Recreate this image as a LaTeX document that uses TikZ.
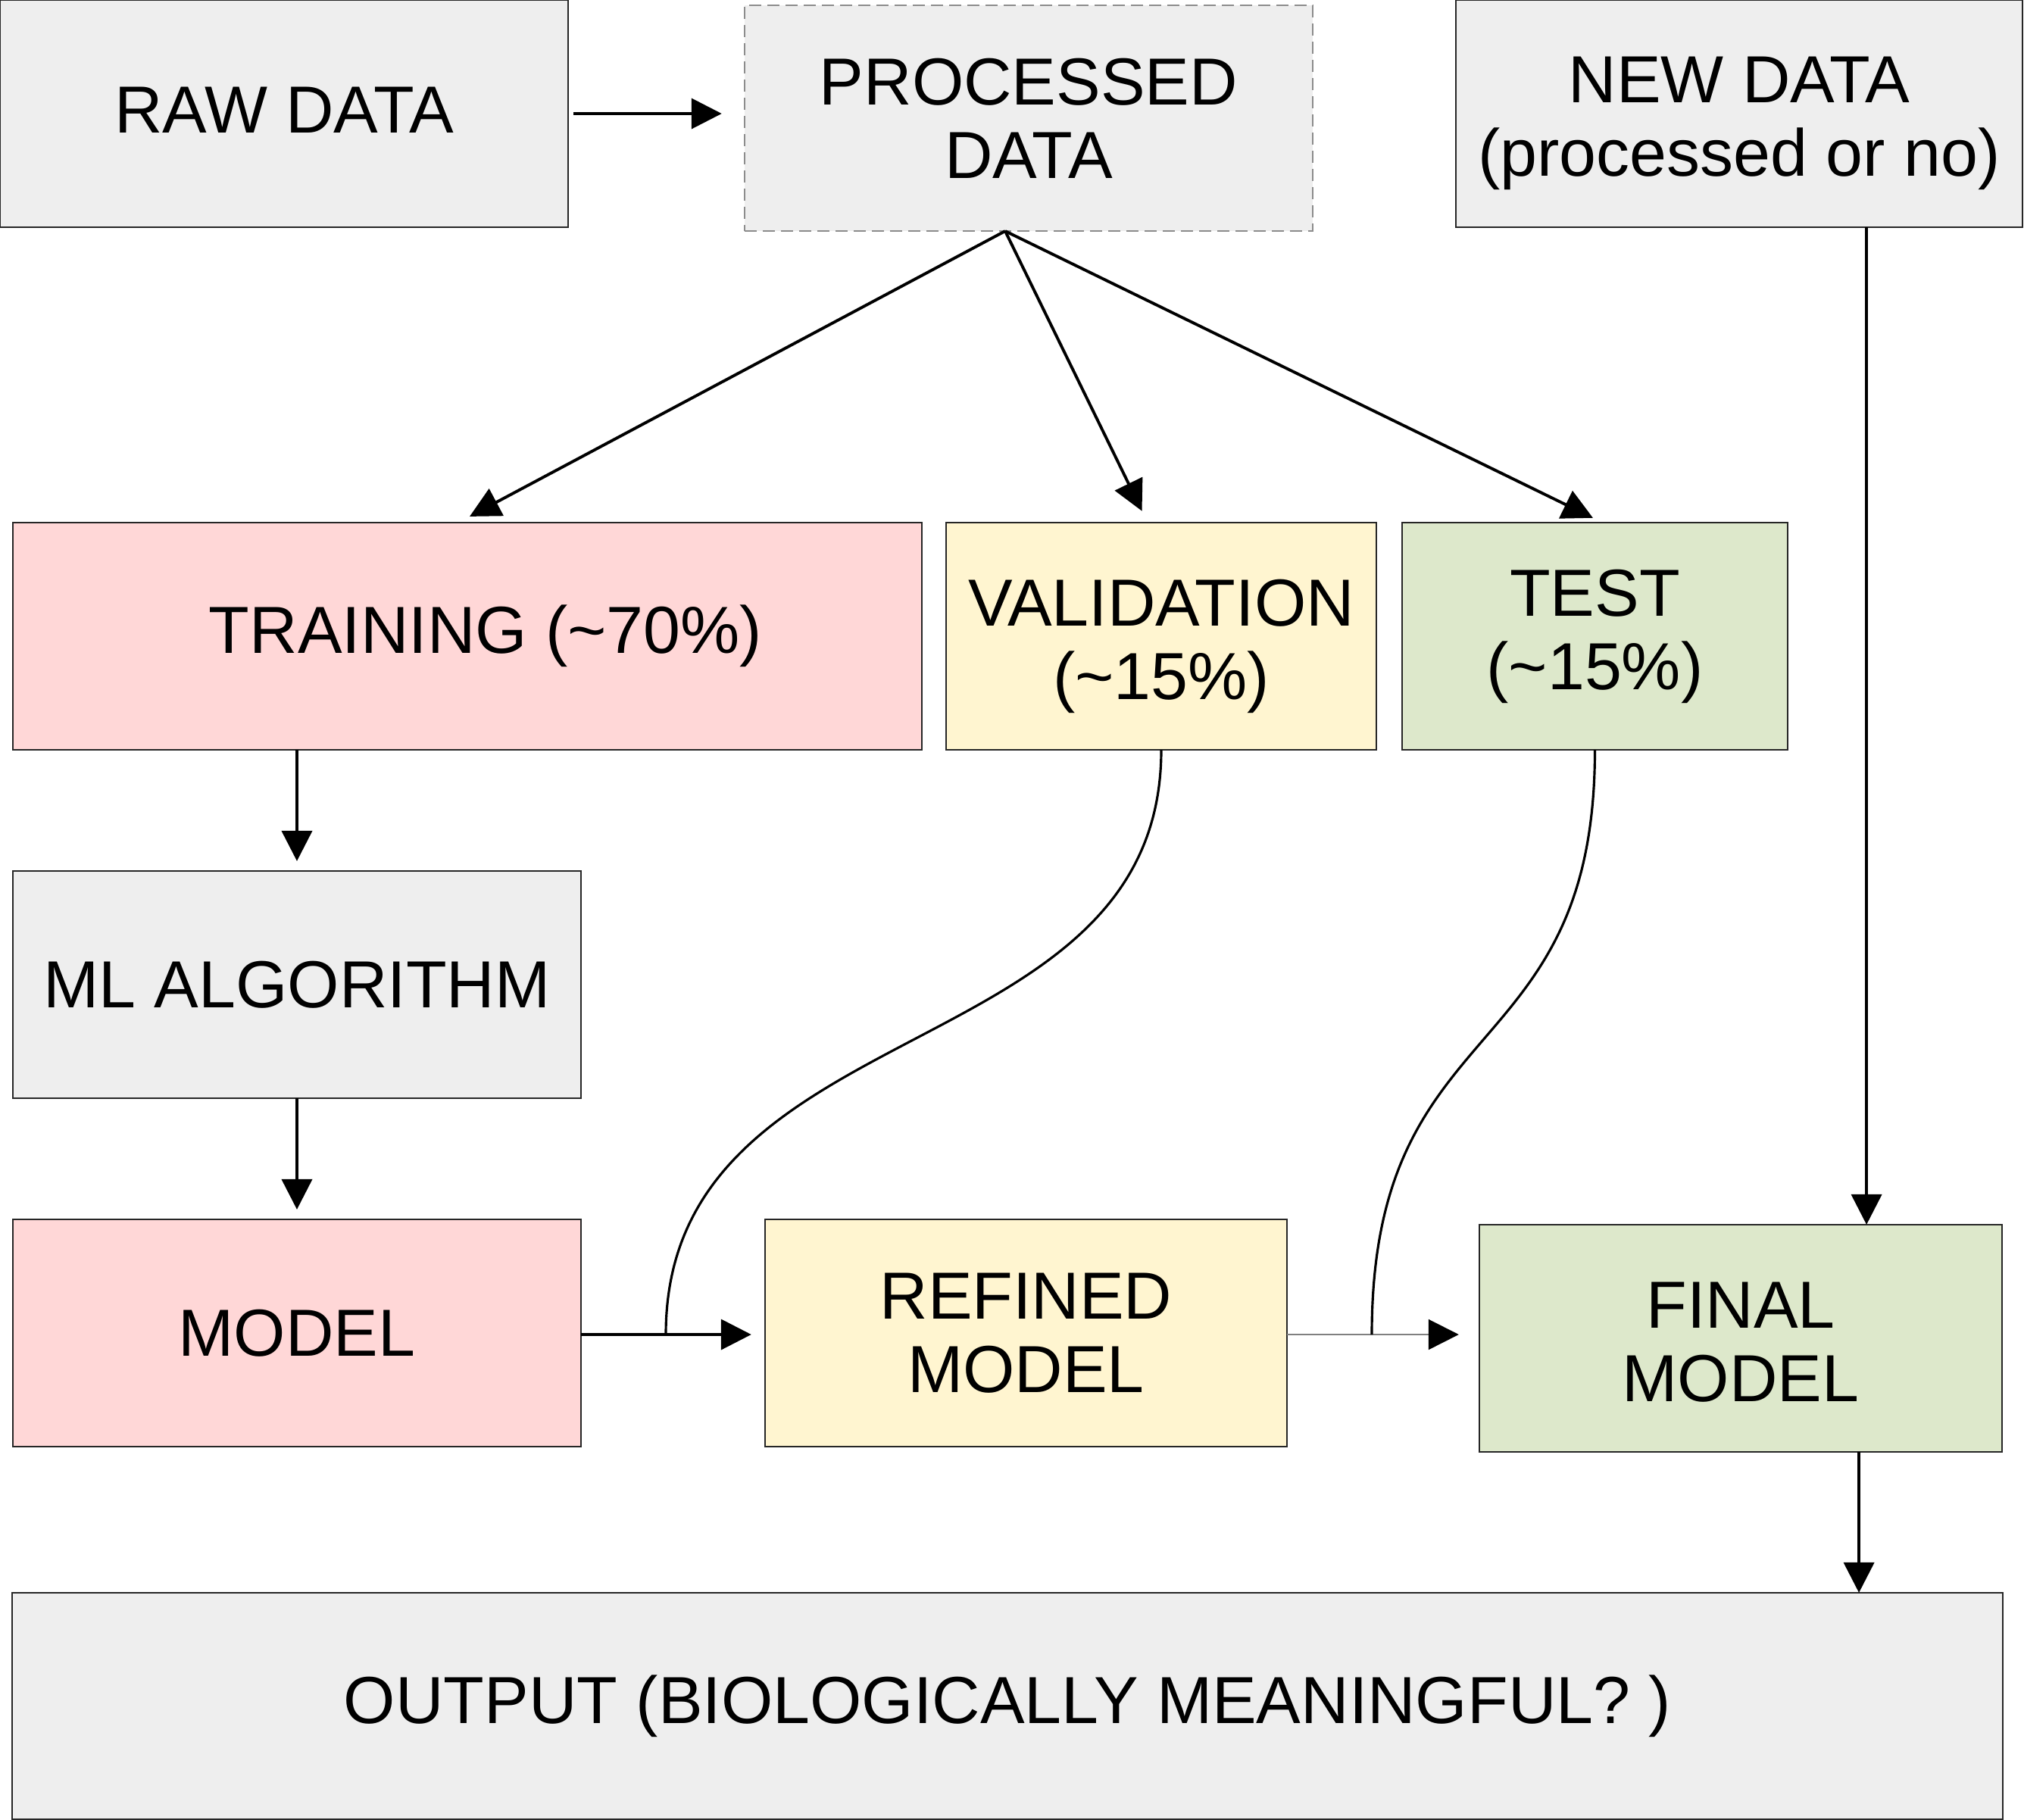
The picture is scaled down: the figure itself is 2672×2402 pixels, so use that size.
\documentclass[tikz,border=0pt]{standalone}
\usepackage{fontspec}
\setmainfont{Liberation Sans}
\usepackage{tikz}
\usetikzlibrary{arrows.meta}

\definecolor{boxgray}{RGB}{238,238,238}
\definecolor{trainred}{RGB}{255,215,215}
\definecolor{validyellow}{RGB}{255,245,208}
\definecolor{testgreen}{RGB}{221,232,203}

\begin{document}
\begin{tikzpicture}[
  x=0.01cm,y=-0.01cm,
  font=\fontsize{25}{27.6}\selectfont,
  box/.style={draw=black!85,line width=0.6pt,rectangle,minimum height=3cm,inner sep=0pt,outer sep=0pt,align=center,text=black},
  arr/.style={-{Triangle[length=4mm,width=4mm]},line width=1.1pt,black},
  thinarr/.style={-{Triangle[length=4mm,width=4mm,color=black]},line width=0.6pt,black!50},
  curve/.style={line width=0.9pt,black}]
  \useasboundingbox (0,0) rectangle (2672,2402);

  % top row
  \node [box,fill=boxgray,minimum width=7.5cm] (raw) at (375,150) {\raisebox{0.1cm}{RAW DATA}};
  \node [box,fill=boxgray,minimum width=7.5cm,minimum height=2.98cm,draw=black!45,dash pattern=on 0.16cm off 0.08cm] (proc) at (1358,156) {PROCESSED\\DATA};
  \node [box,fill=boxgray,minimum width=7.48cm] (new) at (2296,150) {\rule{0pt}{0.87cm}NEW DATA\\(processed or no)};

  % split
  \node [box,fill=trainred,minimum width=12cm] (train) at (617,840) {\hspace*{0.48cm}TRAINING (\char`~70\%)};
  \node [box,fill=validyellow,minimum width=5.68cm] (valid) at (1533,840) {\rule{0pt}{0.89cm}VALIDATION\\(\char`~15\%)};
  \node [box,fill=testgreen,minimum width=5.09cm] (test) at (2105.5,840) {TEST\\(\char`~15\%)};

  % models
  \node [box,fill=boxgray,minimum width=7.5cm] (mlalg) at (392,1300) {ML ALGORITHM};
  \node [box,fill=trainred,minimum width=7.5cm] (model) at (392,1760) {MODEL};
  \node [box,fill=validyellow,minimum width=6.89cm] (refined) at (1354.5,1760) {REFINED\\MODEL};
  \node [box,fill=testgreen,minimum width=6.9cm] (final) at (2298,1767) {\rule{0pt}{0.7cm}FINAL\\MODEL};
  \node [box,fill=boxgray,minimum width=26.26cm,minimum height=2.99cm] (output) at (1330,2252.5) {OUTPUT (BIOLOGICALLY MEANINGFUL? )};

  \coordinate (jv) at (879,1762);
  \coordinate (jt) at (1811,1762);

  \draw [arr,shorten <=0.07cm,shorten >=0.3cm] (raw.east) -- (proc.west |- raw.east);
  \draw [arr,shorten >=0.17cm] ([xshift=-0.31cm]proc.south) -- ([xshift=-0.12cm]train.north);
  \draw [arr,shorten >=0.17cm] ([xshift=-0.31cm]proc.south) -- ([xshift=-0.18cm]valid.north);
  \draw [arr,shorten >=0.14cm] ([xshift=-0.31cm]proc.south) -- ([xshift=0.1cm]test.north);
  \draw [arr] ([xshift=1.68cm]new.south) -- ([xshift=1.68cm]new.south |- final.north);
  \draw [arr,shorten >=0.13cm] (mlalg.north |- train.south) -- (mlalg.north);
  \draw [arr,shorten >=0.13cm] (mlalg.south) -- (model.north);
  \draw [arr,shorten >=0.18cm] ([yshift=-0.02cm]model.east) -- ([yshift=-0.02cm]refined.west);
  \draw [thinarr,shorten >=0.27cm] ([yshift=-0.02cm]refined.east) -- ([yshift=-0.02cm]refined.east -| final.west);
  \draw [arr] ([xshift=1.56cm]final.south) -- ([xshift=1.56cm]final.south |- output.north);

  \draw [curve] (valid.south) .. controls +(0,424) and +(0,-433) .. (jv);
  \draw [curve] (test.south) .. controls +(0,424) and +(0,-433) .. (jt);
\end{tikzpicture}
\end{document}
